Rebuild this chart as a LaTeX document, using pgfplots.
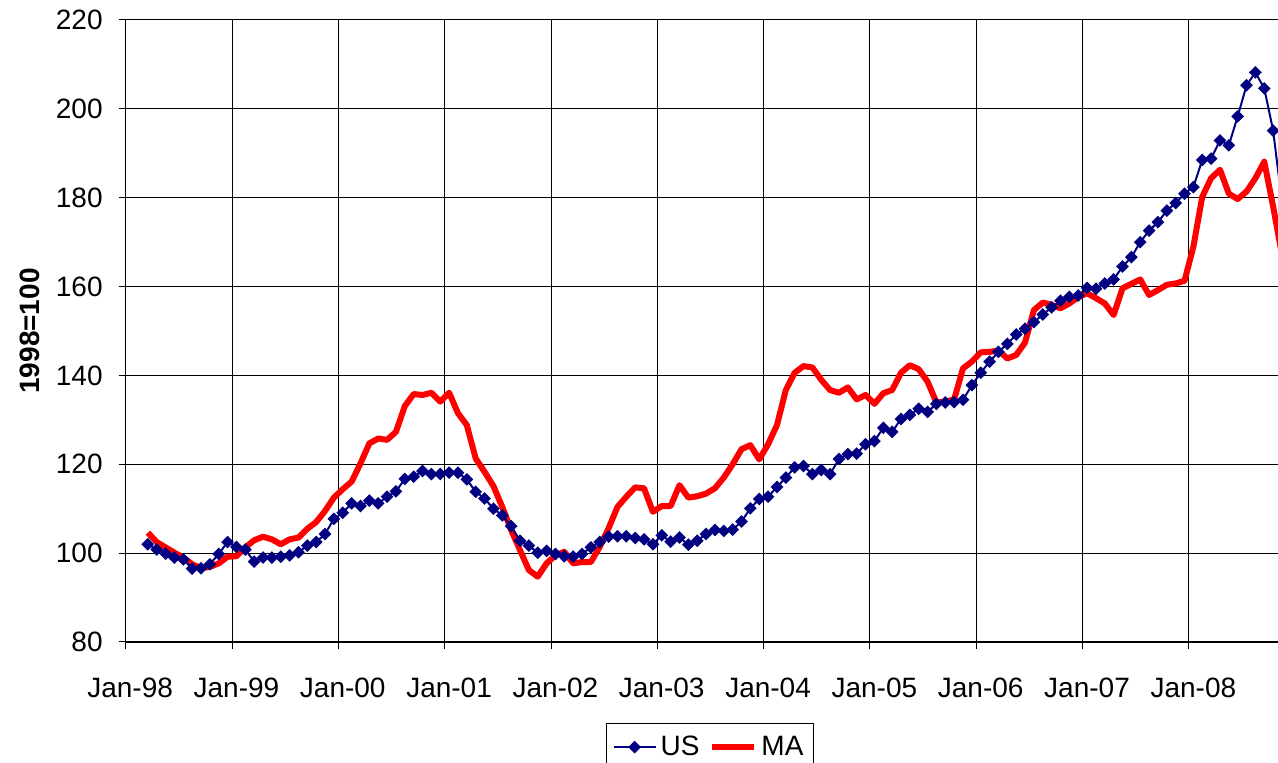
\documentclass[border=0pt]{standalone}
\usepackage{fontspec}
\setmainfont{Liberation Sans}
\usepackage{pgfplots}
\pgfplotsset{compat=1.18}
\usepackage{pgfplotstable}
\definecolor{usblue}{RGB}{0,0,128}

\pgfplotstableread{
m v
2 102.0
3 100.8
4 99.9
5 99.0
6 98.6
7 96.5
8 96.6
9 97.5
10 99.8
11 102.5
12 101.4
13 100.8
14 98.1
15 99.0
16 99.0
17 99.2
18 99.5
19 100.2
20 101.7
21 102.5
22 104.3
23 107.7
24 109.1
25 111.2
26 110.6
27 111.8
28 111.2
29 112.7
30 113.9
31 116.7
32 117.2
33 118.5
34 117.8
35 117.8
36 118.1
37 118.1
38 116.6
39 113.8
40 112.3
41 110.0
42 108.5
43 106.1
44 102.8
45 101.7
46 100.1
47 100.5
48 99.8
49 99.3
50 99.2
51 99.8
52 101.3
53 102.5
54 103.7
55 103.8
56 103.8
57 103.4
58 103.1
59 102.0
60 104.0
61 102.6
62 103.5
63 101.9
64 102.8
65 104.3
66 105.2
67 105.0
68 105.3
69 107.1
70 110.1
71 112.2
72 112.7
73 114.9
74 117.0
75 119.3
76 119.6
77 117.8
78 118.7
79 117.8
80 121.2
81 122.3
82 122.4
83 124.5
84 125.2
85 128.2
86 127.3
87 130.2
88 131.1
89 132.5
90 131.8
91 133.6
92 133.9
93 134.0
94 134.5
95 137.8
96 140.6
97 143.1
98 145.3
99 147.1
100 149.2
101 150.5
102 152.0
103 153.7
104 155.3
105 156.8
106 157.7
107 158.0
108 159.7
109 159.5
110 160.7
111 161.6
112 164.5
113 166.6
114 170.0
115 172.6
116 174.5
117 177.1
118 178.8
119 180.9
120 182.4
121 188.5
122 188.8
123 192.9
124 191.8
125 198.3
126 205.3
127 208.2
128 204.6
129 195.1
130 179.0
}\usdata

\pgfplotstableread{
m v
2 104.6
3 102.5
4 101.3
5 100.1
6 99.0
7 97.5
8 96.6
9 96.9
10 97.7
11 99.2
12 99.3
13 101.3
14 102.9
15 103.7
16 103.1
17 102.0
18 103.1
19 103.5
20 105.5
21 107.0
22 109.5
23 112.5
24 114.4
25 116.1
26 120.2
27 124.7
28 125.8
29 125.5
30 127.3
31 133.1
32 135.8
33 135.6
34 136.1
35 134.1
36 136.1
37 131.5
38 128.8
39 121.3
40 118.3
41 115.1
42 110.4
43 105.2
44 100.7
45 96.2
46 94.7
47 97.7
48 99.5
49 100.3
50 97.7
51 98.0
52 98.0
53 101.4
54 105.6
55 110.4
56 112.7
57 114.8
58 114.6
59 109.3
60 110.6
61 110.6
62 115.3
63 112.5
64 112.8
65 113.4
66 114.6
67 117.0
68 120.0
69 123.4
70 124.3
71 121.1
72 124.5
73 128.8
74 136.7
75 140.6
76 142.1
77 141.8
78 139.0
79 136.7
80 136.1
81 137.3
82 134.6
83 135.6
84 133.6
85 136.0
86 136.7
87 140.6
88 142.3
89 141.4
90 138.6
91 133.9
92 134.1
93 134.6
94 141.6
95 143.1
96 145.2
97 145.3
98 145.6
99 143.8
100 144.6
101 147.4
102 154.7
103 156.4
104 155.9
105 155.1
106 156.2
107 157.6
108 158.5
109 157.4
110 156.2
111 153.6
112 159.6
113 160.6
114 161.6
115 158.1
116 159.2
117 160.4
118 160.7
119 161.3
120 169.0
121 180.2
122 184.4
123 186.3
124 180.9
125 179.7
126 181.4
127 184.4
128 188.1
129 178.0
130 167.1
}\madata

\begin{document}
\begin{tikzpicture}
\path[use as bounding box, clip] (-62.85pt,-60.5pt) rectangle (576.15pt,321pt);
\begin{axis}[
  at={(0,0)}, anchor=south west,
  scale only axis, width=576.15pt, height=311pt,
  xmin=0, xmax=130.05, ymin=80, ymax=220,
  xtick={0,12,...,120},
  xticklabels={Jan-98,Jan-99,Jan-00,Jan-01,Jan-02,Jan-03,Jan-04,Jan-05,Jan-06,Jan-07,Jan-08},
  ytick={80,100,...,220},
  grid=major,
  grid style={black, line width=0.5pt},
  axis lines*=left,
  axis line style={-, black, line width=0.75pt},
  tick align=outside,
  major tick length=3.5pt,
  tick style={black, line width=0.5pt},
  xtick pos=bottom, ytick pos=left,
  ticklabel style={font=\fontsize{14}{16}\selectfont},
  /pgf/number format/assume math mode=true,
  xticklabel style={xshift=2.2pt, yshift=-11pt},
  yticklabel style={xshift=-4.5pt},
  ylabel={\bfseries 1998=100},
  ylabel style={at={(axis description cs:-0.083,0.5)}, anchor=center, font=\fontsize{14}{16}\selectfont},
  legend style={at={(axis description cs:0.5071,-0.1307)}, anchor=north, legend columns=-1,
    draw=black, line width=0.5pt, font=\fontsize{14}{16}\selectfont, inner ysep=4pt,
    /tikz/every even column/.append style={column sep=3pt}},
  legend image code/.code={\draw[mark repeat=2,mark phase=2,#1] plot coordinates {(0pt,0pt)(10.5pt,0pt)(21pt,0pt)};},
]
\addplot[red, line width=3pt, line join=round, no markers, forget plot] table[x expr=\thisrow{m}+0.5, y=v] {\madata};
\addplot[usblue, line width=1pt, mark=square*, mark size=1.75pt, mark options={rotate=45, solid, fill=usblue}] table[x expr=\thisrow{m}+0.5, y=v] {\usdata};
\addlegendentry{US}
\addlegendimage{red, line width=3pt, no markers}
\addlegendentry{MA}
\end{axis}
\end{tikzpicture}
\end{document}
